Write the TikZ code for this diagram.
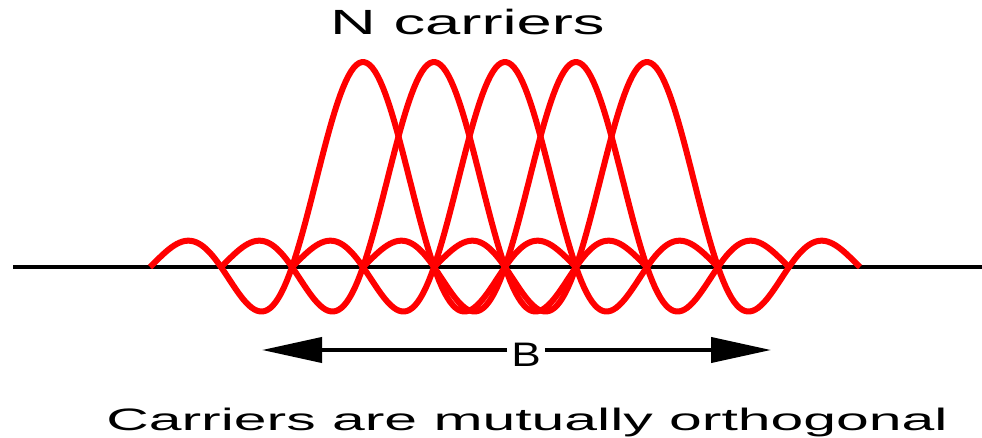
\documentclass[tikz,border=0pt]{standalone}
\usepackage{fontspec}
\usetikzlibrary{arrows.meta}
\newfontfamily\wideA[FakeStretch=1.81]{Liberation Sans}
\newfontfamily\wideB[FakeStretch=1.9]{Liberation Sans}
\newfontfamily\wideC[FakeStretch=1.3]{Liberation Sans}
\tikzset{
  carrier/.style={draw=red, line width=6pt, line join=round},
  axisline/.style={draw=black, line width=4pt},
  bandarrow/.style={draw=black, line width=4pt, -{Triangle[length=60pt,width=25pt]}},
  lbl/.style={inner sep=0pt, anchor=base, text=black}
}
\begin{document}
\begin{tikzpicture}[x=1pt,y=-1pt]
\useasboundingbox (0,0) rectangle (982,438);
% baseline axis
\coordinate (axL) at (13,267);
\coordinate (axR) at (982,267);
\draw[axisline] (axL) -- (axR);
% five sinc carriers
\foreach \k in {0,...,4}{
  \draw[carrier] plot[domain=-3:3, samples=160]
    ({363+71*(\k+\x)}, {267-205*sin(180*\x)/(pi*\x)});
}
% labels
\node[lbl, font={\wideA\fontsize{35}{40}\selectfont}] (top) at (467.5,35) {N carriers};
\node[lbl, font={\wideC\fontsize{34}{40}\selectfont}, inner xsep=4pt] (B) at (526,366) {B};
\node[lbl, font={\wideB\fontsize{31}{36}\selectfont}] (bottom) at (527,430) {Carriers are mutually orthogonal};
% bandwidth arrow
\coordinate (bL) at (262,350);
\coordinate (bR) at (771,350);
\draw[bandarrow] (B.west |- bL) -- (bL);
\draw[bandarrow] (B.east |- bR) -- (bR);
\end{tikzpicture}
\end{document}
